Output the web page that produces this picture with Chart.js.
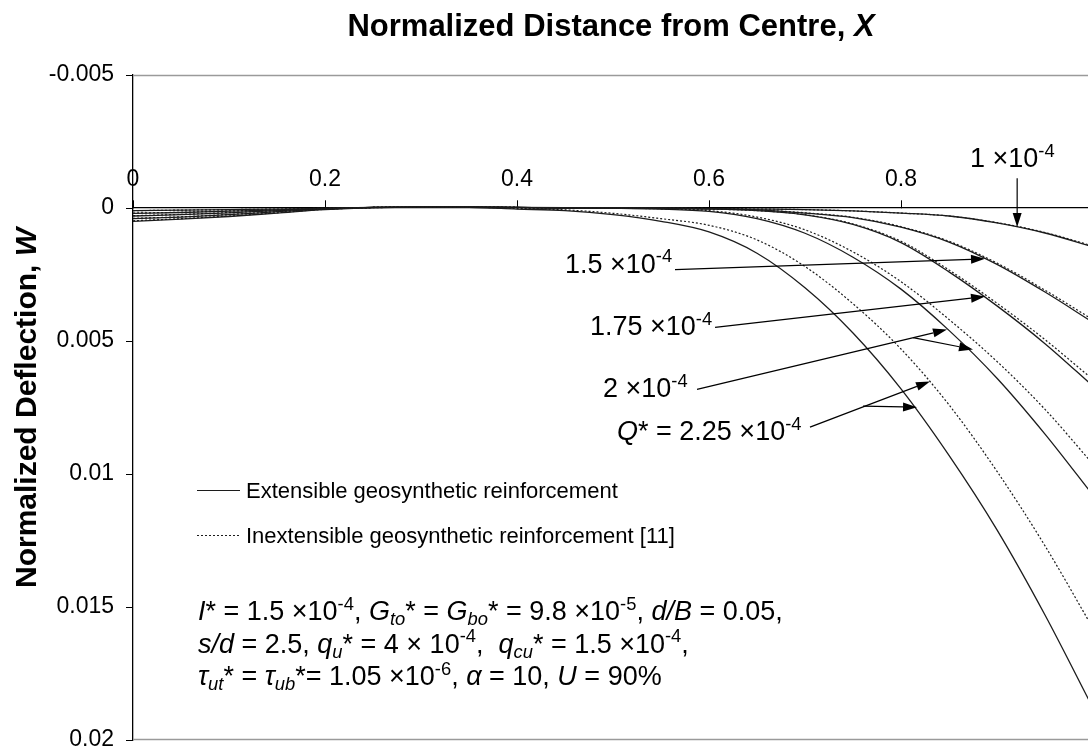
<!DOCTYPE html>
<html>
<head>
<meta charset="utf-8">
<script src="https://cdn.jsdelivr.net/npm/chart.js@4.4.1/dist/chart.umd.min.js"></script>
<style>
  html, body { margin: 0; padding: 0; background: #fff; overflow: hidden; }
  #wrap { width: 1100px; height: 749px; }
</style>
</head>
<body>
<div id="wrap"><canvas id="chart" width="1100" height="749"></canvas></div>
<script>
// Normalized distance from centre, X
const xGrid = [0, 0.05, 0.1, 0.15, 0.2, 0.25, 0.3, 0.35, 0.4, 0.45, 0.5, 0.55, 0.6, 0.65, 0.7, 0.75, 0.8, 0.85, 0.9, 0.95, 1.0];

// Normalized deflection W, extensible reinforcement (solid)
const wExt100 = [0.0001, 0.00008, 0.00006, 0.00004, 0.00001, -0.00002, -0.00003, -0.00003, -0.00002, -0.00001, 0, 0, 0.00002, 0.00004, 0.00006, 0.00011, 0.00019, 0.0003, 0.00056, 0.00094, 0.00146];
const wExt150 = [0.0002, 0.00017, 0.00012, 0.00007, 0.00002, -0.00002, -0.00004, -0.00004, -0.00002, 0, 0, 0.00001, 0.00002, 0.00007, 0.00019, 0.00036, 0.00072, 0.00128, 0.00212, 0.00316, 0.0043];
const wExt175 = [0.0003, 0.00025, 0.00018, 0.0001, 0.00003, -0.00002, -0.00004, -0.00004, -0.00002, 0, 0.00001, 0.00002, 0.00004, 0.0001, 0.00026, 0.00062, 0.0013, 0.0024, 0.00368, 0.0051, 0.0067];
const wExt200 = [0.0004, 0.00034, 0.00025, 0.00014, 0.00004, -0.00002, -0.00004, -0.00004, -0.00002, 0, 0.00001, 0.00004, 0.00013, 0.0004, 0.00095, 0.00185, 0.00305, 0.0046, 0.0064, 0.0085, 0.0108];
const wExt225 = [0.0005, 0.00042, 0.00032, 0.00019, 0.00006, -0.00001, -0.00003, -0.00002, 0.00004, 0.0001, 0.00025, 0.0005, 0.0009, 0.0017, 0.003, 0.0047, 0.0068, 0.0093, 0.0121, 0.0153, 0.0188];

// Inextensible reinforcement [11] (dotted)
const wInx100 = [0.0001, 0.00008, 0.00006, 0.00004, 0.00001, -0.00002, -0.00003, -0.00003, -0.00002, -0.00001, 0, 0, 0.00002, 0.00004, 0.00006, 0.00011, 0.00019, 0.0003, 0.00055, 0.00092, 0.00143];
const wInx150 = [0.00019, 0.00016, 0.00011, 0.00007, 0.00002, -0.00002, -0.00004, -0.00004, -0.00002, 0, 0, 0.00001, 0.00002, 0.00007, 0.00018, 0.00035, 0.0007, 0.00125, 0.00207, 0.00309, 0.0042];
const wInx175 = [0.00029, 0.00024, 0.00017, 0.0001, 0.00003, -0.00002, -0.00004, -0.00004, -0.00002, 0, 0.00001, 0.00002, 0.00004, 0.0001, 0.00025, 0.0006, 0.00125, 0.00233, 0.00358, 0.00495, 0.00645];
const wInx200 = [0.00039, 0.00033, 0.00024, 0.00014, 0.00004, -0.00002, -0.00004, -0.00004, -0.00002, 0, 0.00001, 0.00003, 0.0001, 0.00034, 0.00082, 0.00165, 0.00277, 0.00419, 0.00577, 0.00757, 0.00963];
const wInx225 = [0.00048, 0.0004, 0.0003, 0.00018, 0.00005, -0.00001, -0.00003, -0.00003, 0.00002, 0.00007, 0.0002, 0.0004, 0.00065, 0.0012, 0.0022, 0.0036, 0.0053, 0.0074, 0.0099, 0.0127, 0.0158];

const xTicks = [0, 0.2, 0.4, 0.6, 0.8, 1];
const yTicks = [-0.005, 0, 0.005, 0.01, 0.015, 0.02];

const FONT = '"Liberation Sans", Arial, Helvetica, sans-serif';
const INK = '#1c1c1c';

const toPoints = ys => xGrid.map((x, i) => ({ x, y: ys[i] }));
const solid = (label, ys) => ({ label, data: toPoints(ys), borderColor: INK, borderWidth: 1.3, pointRadius: 0, cubicInterpolationMode: 'monotone', fill: false });
const dotted = (label, ys) => ({ label, data: toPoints(ys), borderColor: INK, borderWidth: 1.2, borderDash: [2, 2], pointRadius: 0, cubicInterpolationMode: 'monotone', fill: false });

// curve labels (left, baseline) and arrows, both in data units (X, W)
const sup = t => ({ t, sup: true });
const curveNotes = [
  { at: [0.8719, -0.00154], segs: [{ t: '1 ×10' }, sup('-4')] },
  { at: [0.45, 0.00243], segs: [{ t: '1.5 ×10' }, sup('-4')] },
  { at: [0.476, 0.00479], segs: [{ t: '1.75 ×10' }, sup('-4')] },
  { at: [0.4896, 0.00712], segs: [{ t: '2 ×10' }, sup('-4')] },
  { at: [0.5042, 0.00873], segs: [{ t: 'Q', i: true }, { t: '* = 2.25 ×10' }, sup('-4')] }
];
const arrows = [
  [[0.921, -0.00112], [0.921, 0.00071]],
  [[0.5646, 0.00232], [0.8875, 0.00191]],
  [[0.6063, 0.00449], [0.8875, 0.00333]],
  [[0.5875, 0.00682], [0.8479, 0.00457]],
  [[0.8125, 0.00487], [0.875, 0.00532]],
  [[0.7052, 0.00824], [0.8302, 0.00652]],
  [[0.7604, 0.00745], [0.8167, 0.00749]]
];

const paramLines = [
  [{ t: 'I', i: true }, { t: '* = 1.5 ×10' }, sup('-4'), { t: ', ' }, { t: 'G', i: true }, { t: 'to', i: true, sub: true }, { t: '* = ' },
   { t: 'G', i: true }, { t: 'bo', i: true, sub: true }, { t: '* = 9.8 ×10' }, sup('-5'), { t: ', ' }, { t: 'd/B', i: true }, { t: ' = 0.05,' }],
  [{ t: 's/d', i: true }, { t: ' = 2.5, ' }, { t: 'q', i: true }, { t: 'u', i: true, sub: true }, { t: '* = 4 × 10' }, sup('-4'), { t: ',  ' },
   { t: 'q', i: true }, { t: 'cu', i: true, sub: true }, { t: '* = 1.5 ×10' }, sup('-4'), { t: ',' }],
  [{ t: 'τ', i: true }, { t: 'ut', i: true, sub: true }, { t: '* = ' }, { t: 'τ', i: true }, { t: 'ub', i: true, sub: true }, { t: '*= 1.05 ×10' }, sup('-6'),
   { t: ', ' }, { t: 'α', i: true }, { t: ' = 10, ' }, { t: 'U', i: true }, { t: ' = 90%' }]
];

function drawRich(ctx, x, y, segs, size, bold) {
  segs.forEach(s => {
    const fs = (s.sub || s.sup) ? size * 0.68 : size;
    ctx.font = `${s.i ? 'italic ' : ''}${bold ? 'bold ' : ''}${fs}px ${FONT}`;
    const dy = s.sup ? -size * 0.38 : s.sub ? size * 0.2 : 0;
    ctx.fillText(s.t, x, y + dy);
    x += ctx.measureText(s.t).width;
  });
  return x;
}

function richWidth(ctx, segs, size, bold) {
  let w = 0;
  segs.forEach(s => {
    const fs = (s.sub || s.sup) ? size * 0.68 : size;
    ctx.font = `${s.i ? 'italic ' : ''}${bold ? 'bold ' : ''}${fs}px ${FONT}`;
    w += ctx.measureText(s.t).width;
  });
  return w;
}

function drawArrow(ctx, x1, y1, x2, y2) {
  const a = Math.atan2(y2 - y1, x2 - x1), L = 14, H = 4.5;
  const bx = x2 - L * Math.cos(a), by = y2 - L * Math.sin(a);
  ctx.beginPath(); ctx.moveTo(x1, y1); ctx.lineTo(bx, by); ctx.stroke();
  ctx.beginPath();
  ctx.moveTo(x2, y2);
  ctx.lineTo(bx + H * Math.sin(a), by - H * Math.cos(a));
  ctx.lineTo(bx - H * Math.sin(a), by + H * Math.cos(a));
  ctx.closePath(); ctx.fill();
}

const decorations = {
  id: 'decorations',
  afterDraw(chart) {
    const { ctx, chartArea: ca, scales: { x, y } } = chart;
    ctx.save();
    // plot area frame (top / bottom)
    ctx.strokeStyle = '#9a9a9a'; ctx.lineWidth = 1.5;
    ctx.beginPath();
    ctx.moveTo(ca.left, ca.top + 0.5); ctx.lineTo(ca.right, ca.top + 0.5);
    ctx.moveTo(ca.left, ca.bottom - 0.5); ctx.lineTo(ca.right, ca.bottom - 0.5);
    ctx.stroke();

    ctx.fillStyle = '#000'; ctx.textBaseline = 'alphabetic';
    // axis titles
    const xt = [{ t: 'Normalized Distance from Centre, ' }, { t: 'X', i: true }];
    const xw = richWidth(ctx, xt, 31, true);
    drawRich(ctx, 611 - xw / 2, 36, xt, 31, true);
    const yt = [{ t: 'Normalized Deflection, ' }, { t: 'W', i: true }];
    const yw = richWidth(ctx, yt, 30, true);
    ctx.save();
    ctx.translate(36, 408); ctx.rotate(-Math.PI / 2);
    drawRich(ctx, -yw / 2, 0, yt, 30, true);
    ctx.restore();

    // legend
    ctx.strokeStyle = INK; ctx.lineWidth = 1.2;
    ctx.beginPath(); ctx.moveTo(197, 490.5); ctx.lineTo(240, 490.5); ctx.stroke();
    ctx.setLineDash([2, 2]);
    ctx.beginPath(); ctx.moveTo(197, 535.5); ctx.lineTo(240, 535.5); ctx.stroke();
    ctx.setLineDash([]);
    ctx.font = `22px ${FONT}`;
    ctx.fillText('Extensible geosynthetic reinforcement', 246, 498);
    ctx.fillText('Inextensible geosynthetic reinforcement [11]', 246, 543);

    // parameters
    paramLines.forEach((segs, i) => drawRich(ctx, 198, 620 + i * 32.5, segs, 27));

    // curve labels + arrows
    curveNotes.forEach(n => drawRich(ctx, x.getPixelForValue(n.at[0]), y.getPixelForValue(n.at[1]), n.segs, 27));
    ctx.strokeStyle = '#000'; ctx.fillStyle = '#000'; ctx.lineWidth = 1.2;
    arrows.forEach(([p, q]) => drawArrow(ctx,
      x.getPixelForValue(p[0]), y.getPixelForValue(p[1]),
      x.getPixelForValue(q[0]), y.getPixelForValue(q[1])));
    ctx.restore();
  }
};

new Chart(document.getElementById('chart'), {
  type: 'line',
  data: {
    datasets: [
      dotted('Inextensible 1e-4', wInx100),
      dotted('Inextensible 1.5e-4', wInx150),
      dotted('Inextensible 1.75e-4', wInx175),
      dotted('Inextensible 2e-4', wInx200),
      dotted('Inextensible 2.25e-4', wInx225),
      solid('Extensible 1e-4', wExt100),
      solid('Extensible 1.5e-4', wExt150),
      solid('Extensible 1.75e-4', wExt175),
      solid('Extensible 2e-4', wExt200),
      solid('Extensible 2.25e-4', wExt225)
    ]
  },
  options: {
    responsive: false,
    animation: false,
    devicePixelRatio: 1,
    layout: { padding: { top: 75, right: 7, bottom: 9, left: 0 } },
    plugins: { legend: { display: false }, tooltip: { enabled: false } },
    scales: {
      x: {
        type: 'linear', min: 0, max: 1, position: { y: 0 },
        afterBuildTicks: s => { s.ticks = xTicks.map(v => ({ value: v })); },
        ticks: { color: '#000', font: { size: 23, family: FONT }, padding: -34, maxRotation: 0, autoSkip: false,
                 callback: v => String(+v.toFixed(1)) },
        grid: { drawOnChartArea: false, drawTicks: true, tickLength: -8, color: '#000' },
        border: { color: '#000', width: 1.3 },
        afterFit: s => { s.paddingLeft = 0; s.paddingRight = 0; }
      },
      y: {
        type: 'linear', reverse: true, min: -0.005, max: 0.02,
        afterBuildTicks: s => { s.ticks = yTicks.map(v => ({ value: v })); },
        ticks: { color: '#000', font: { size: 23, family: FONT }, padding: 12,
                 callback: v => String(+v.toFixed(3)) },
        grid: { drawOnChartArea: false, drawTicks: true, tickLength: 7, color: '#000' },
        border: { color: '#000', width: 1.3 },
        afterFit: s => { s.width = 133; s.paddingTop = 0; s.paddingBottom = 0; }
      }
    }
  },
  plugins: [decorations]
});
</script>
</body>
</html>
